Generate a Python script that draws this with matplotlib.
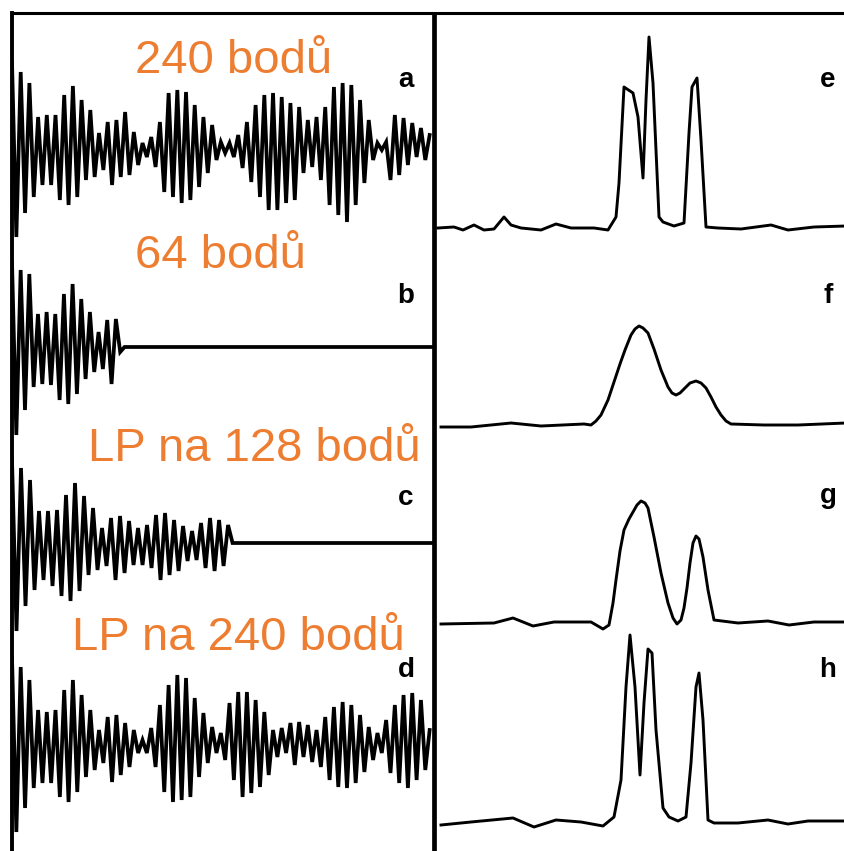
#!/usr/bin/env python3
"""FID traces (a-d) and their spectra (e-h): truncation vs linear prediction."""
import numpy as np
import matplotlib; matplotlib.use("Agg")
import matplotlib.pyplot as plt

W, H = 845, 851
ORANGE = "#ED7D31"
plt.rcParams["font.family"] = ["Liberation Sans", "DejaVu Sans"]

N_TOTAL = 240
# FID extremes (amplitude above / below baseline), read per oscillation
A_TOP = [85, 75, 64, 30, 32, 32, 52, 61, 47, 37, 14, 25, 27, 35, 15, 4, 10, 25, 54, 57, 55, 42, 30,
         22, 5, 4, 12, 25, 42, 52, 54, 50, 44, 40, 27, 30, 40, 60, 64, 62, 47, 27, 4, 5, 32, 29, 24, 19, 12]
A_BOT = [90, 66, 50, 38, 38, 53, 58, 50, 33, 30, 23, 38, 30, 28, 18, 10, 20, 45, 50, 56, 53, 40, 26,
         13, 6, 10, 21, 35, 50, 63, 63, 56, 53, 26, 20, 33, 58, 68, 75, 58, 36, 13, 3, 33, 28, 18, 10, 13]
B_TOP = [85, 77, 73, 33, 35, 33, 53, 63, 48, 35, 15, 27, 28]
B_BOT = [88, 63, 40, 37, 38, 53, 57, 47, 32, 25, 22, 37, 5]
C_TOP = [83, 75, 63, 32, 32, 33, 48, 60, 47, 35, 15, 25, 27, 22, 15, 18, 28, 30, 23, 17, 12, 20, 25, 23, 18]
C_BOT = [88, 63, 47, 37, 43, 53, 58, 48, 32, 27, 23, 37, 30, 22, 22, 25, 37, 32, 28, 18, 17, 25, 28, 23, 0]
D_TOP = [88, 78, 65, 35, 33, 35, 55, 65, 50, 35, 15, 28, 30, 22, 15, 5, 17, 40, 60, 70, 67, 47, 32, 18, 12,
         42, 53, 53, 45, 33, 15, 17, 22, 23, 20, 15, 28, 38, 43, 40, 30, 18, 12, 25, 40, 50, 52, 45, 15]
D_BOT = [87, 63, 43, 38, 38, 52, 57, 47, 32, 25, 18, 37, 30, 22, 8, 8, 22, 47, 57, 55, 52, 32, 18, 8, 15,
         35, 52, 48, 42, 30, 12, 8, 20, 12, 17, 22, 35, 42, 43, 38, 27, 15, 8, 28, 38, 43, 35, 25]
FIDS = [("a", "240 bodů", 240, A_TOP, A_BOT),
        ("b", "64 bodů", 64, B_TOP, B_BOT),
        ("c", "LP na 128 bodů", 128, C_TOP, C_BOT),
        ("d", "LP na 240 bodů", 240, D_TOP, D_BOT)]

# spectra: (frequency channel, intensity)
E_X = [4, 20, 29, 40, 50, 60, 70, 77, 87, 107, 122, 137, 147, 160, 174, 182, 185, 190, 199, 204, 209, 212,
       215, 219, 225, 229, 240, 250, 255, 258, 263, 267, 272, 284, 307, 337, 354, 380, 412]
E_Y = [0, 1, -2, 3, -2, -1, 11, 3, 0, -2, 4, 0, 0, 0, -2, 11, 45, 141, 135, 111, 50, 128,
       191, 145, 11, 6, 2, 5, 95, 141, 150, 88, 1, 0, -1, 3, -2, 1, 2]
F_X = [7, 37, 77, 107, 150, 157, 162, 167, 174, 180, 186, 191, 197, 201, 205, 209, 214, 220, 227, 234,
       238, 242, 246, 251, 256, 262, 267, 272, 277, 282, 287, 292, 297, 330, 364, 412]
F_Y = [-1, -1, 3, 0, 2, 1, 5, 11, 26, 44, 62, 76, 91, 97, 100, 98, 93, 77, 56, 39,
       33, 31, 33, 38, 43, 45, 43, 38, 29, 19, 11, 5, 2, 1, 1, 3]
G_X = [7, 60, 79, 99, 120, 157, 169, 175, 179, 182, 186, 190, 195, 199, 203, 207, 211, 214, 220, 227,
       234, 239, 243, 247, 250, 253, 256, 259, 262, 265, 269, 274, 280, 304, 334, 355, 380, 412]
G_Y = [-1, 0, 5, -3, 1, 1, -6, -2, 20, 43, 72, 93, 104, 111, 118, 122, 120, 115, 86, 50,
       20, 5, -1, 3, 15, 35, 60, 80, 87, 84, 66, 33, 3, 0, 2, -2, 1, 1]
H_X = [7, 37, 79, 100, 122, 147, 169, 180, 187, 192, 196, 201, 206, 210, 214, 218, 222, 229, 235, 244,
       252, 257, 262, 265, 269, 274, 280, 304, 334, 354, 374, 412]
H_Y = [-2, 1, 5, -4, 3, 1, -3, 6, 43, 136, 188, 136, 48, 120, 174, 170, 93, 15, 6, 2,
       6, 60, 136, 150, 103, 3, 0, 0, 3, -1, 2, 2]
SPECTRA = [("e", E_X, E_Y), ("f", F_X, F_Y), ("g", G_X, G_Y), ("h", H_X, H_Y)]

# layout in pixels
LEFT, DIV = 12, 434
FID_BASE = [147, 347, 543, 745]
SPEC_BASE = [228, 426, 623, 823]
LABEL_BASE = [87, 303, 505, 677]
TITLE_POS = [(135, 73), (135, 268), (88, 461), (72, 650)]


def fx(x): return x / W
def fy(y): return 1 - y / H


fig = plt.figure(figsize=(W / 100, H / 100), dpi=100)

frame = fig.add_axes([fx(LEFT), 0, fx(W - LEFT), 1 - 13 / H])
frame.set_xlim(LEFT, W); frame.set_ylim(0, 1)
frame.set_xticks([]); frame.set_yticks([])
for s in ("right", "bottom"): frame.spines[s].set_visible(False)
frame.spines["top"].set_linewidth(2.2); frame.spines["left"].set_linewidth(2.8)
frame.axvline(DIV, color="black", lw=3.4)
frame.patch.set_alpha(0)

for (lab, title, npts, top, bot), base, lb, (tx, ty) in zip(FIDS, FID_BASE, LABEL_BASE, TITLE_POS):
    ax = fig.add_axes([fx(LEFT), fy(base + 100), fx(DIV - LEFT), 200 / H])
    ext = []
    for t, b in zip(top, bot): ext += [t, -b]
    if len(top) > len(bot): ext.append(top[-1])
    xs = np.linspace(0, npts, len(ext) + 1)[:-1]
    ys = np.array(ext, float)
    if npts < N_TOTAL:
        xs = np.append(xs, [npts, N_TOTAL]); ys = np.append(ys, [0, 0])
    ax.plot(xs, ys, color="black", lw=2.7, solid_joinstyle="miter")
    ax.set_xlim(0, N_TOTAL); ax.set_ylim(-100, 100); ax.axis("off")
    fig.text(fx(406), fy(lb), lab, fontsize=20, weight="bold", ha="center", va="baseline")
    fig.text(fx(tx), fy(ty), title, fontsize=34, color=ORANGE, ha="left", va="baseline")

for (lab, sx, sy), base, lb in zip(SPECTRA, SPEC_BASE, LABEL_BASE):
    ax = fig.add_axes([fx(DIV), fy(base + 20), fx(W - DIV), 220 / H])
    ax.plot(sx, sy, color="black", lw=2.1, clip_on=False)
    ax.set_xlim(0, W - DIV); ax.set_ylim(-20, 200); ax.axis("off")
    fig.text(fx(828), fy(lb - 2 if lab == "g" else lb), lab, fontsize=20, weight="bold",
             ha="center", va="baseline")

fig.savefig("out.png", dpi=100)
